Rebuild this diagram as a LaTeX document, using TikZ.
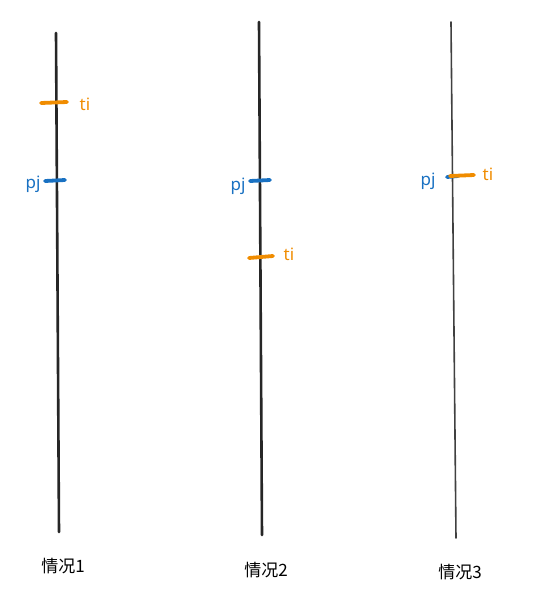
\documentclass[tikz,border=0pt]{standalone}
\usepackage{fontspec}
\setmainfont{Noto Sans}
\newfontfamily\cjk{Noto Sans CJK SC}
\usepackage{tikz}
\usepackage{color}
\definecolor{tiorange}{HTML}{F08C00}
\definecolor{pjblue}{HTML}{1971C2}

\begin{document}
\begin{tikzpicture}[x=1pt,y=-1pt,
        axisline/.style={line width=2.6pt,black!85,line cap=round},
        tickmark/.style={line width=3.8pt,line cap=round},
        ticklabel/.style={font=\fontsize{17}{17}\selectfont},
        caselabel/.style={font=\cjk\fontsize{17}{17}\selectfont}]
        \useasboundingbox (0,0) rectangle (544,598);
        \coordinate (a1) at (56,33);
        \coordinate (b1) at (59,532);
        \coordinate (a2) at (259,22);
        \coordinate (b2) at (262,535);
        \coordinate (a3) at (451,22);
        \coordinate (b3) at (456,538);

        \coordinate (t1l) at (41,103);
        \coordinate (t1r) at (67,102);
        \coordinate (p1l) at (45,181);
        \coordinate (p1r) at (65,180);
        \coordinate (p2l) at (250,181);
        \coordinate (p2r) at (270,180);
        \coordinate (t2l) at (249,258);
        \coordinate (t2r) at (273,256);
        \coordinate (p3l) at (447,177);
        \coordinate (p3r) at (458,176);
        \coordinate (t3l) at (450,176);
        \coordinate (t3r) at (474,175);

        \draw[axisline] (a1) -- (b1);
        \draw[axisline] (a2) -- (b2);
        \draw[axisline,line width=1.6pt,black!75] (a3) -- (b3);

        \draw[tickmark,tiorange] (t1l) -- (t1r);
        \draw[tickmark,pjblue] (p1l) -- (p1r);
        \draw[tickmark,pjblue] (p2l) -- (p2r);
        \draw[tickmark,tiorange] (t2l) -- (t2r);
        \draw[tickmark,pjblue] (p3l) -- (p3r);
        \draw[tickmark,tiorange] (t3l) -- (t3r);

        \node[ticklabel,text=tiorange] (ti1) at (85,104) {ti};
        \node[ticklabel,text=pjblue] (pj1) at (33,184) {pj};
        \node[ticklabel,text=pjblue] (pj2) at (238,186) {pj};
        \node[ticklabel,text=tiorange] (ti2) at (289,254) {ti};
        \node[ticklabel,text=pjblue] (pj3) at (428,181) {pj};
        \node[ticklabel,text=tiorange] (ti3) at (488,174) {ti};

        \node[caselabel] (c1) at (63,566) {情况1};
        \node[caselabel] (c2) at (266,570) {情况2};
        \node[caselabel] (c3) at (460,572) {情况3};
    \end{tikzpicture}
\end{document}
